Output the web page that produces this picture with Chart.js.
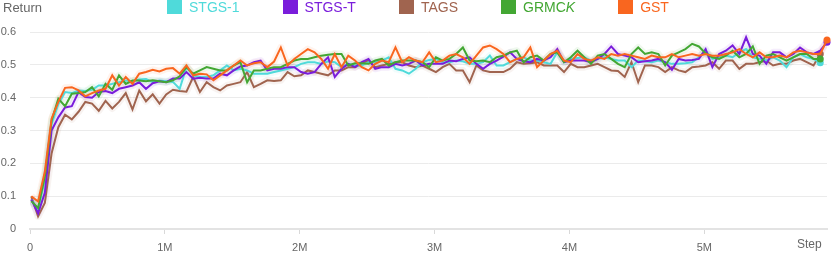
<!DOCTYPE html>
<html lang="en">
<head>
  <meta charset="utf-8" />
  <title>Return vs Step</title>
  <script src="https://cdn.jsdelivr.net/npm/chart.js"></script>
  <style>
    body { margin: 0; background: #fff; }
    .wrap { position: relative; width: 831px; height: 253px; font-family: "Liberation Sans", Arial, sans-serif; }
    .axis-name { position: absolute; color: #666; }
    #yname { left: 3px; top: 0px; font-size: 13px; }
    #xname { left: 797px; top: 237px; font-size: 12px; }
    #legend { position: absolute; top: 0; left: 167px; display: flex; font-size: 14px; line-height: 14px; }
    .item { display: flex; align-items: center; margin-right: 43px; }
    .box { width: 15px; height: 14px; margin-right: 7px; }
  </style>
</head>
<body>
  <div class="wrap">
    <canvas id="chart" width="831" height="253"></canvas>
    <div class="axis-name" id="yname">Return</div>
    <div class="axis-name" id="xname">Step</div>
    <div id="legend"></div>
  </div>

  <script>
    // steps in thousands
    const steps = [
      10, 60, 110, 160, 210, 260, 310, 360, 410, 460, 510, 560, 610, 660, 710, 760, 810, 860, 910, 960,
      1010, 1060, 1110, 1160, 1210, 1260, 1310, 1360, 1410, 1460, 1510, 1560, 1610, 1660, 1710, 1760, 1810, 1860, 1910, 1960,
      2010, 2060, 2110, 2160, 2210, 2260, 2310, 2360, 2410, 2460, 2510, 2560, 2610, 2660, 2710, 2760, 2810, 2860, 2910, 2960,
      3010, 3060, 3110, 3160, 3210, 3260, 3310, 3360, 3410, 3460, 3510, 3560, 3610, 3660, 3710, 3760, 3810, 3860, 3910, 3960,
      4010, 4060, 4110, 4160, 4210, 4260, 4310, 4360, 4410, 4460, 4510, 4560, 4610, 4660, 4710, 4760, 4810, 4860, 4910, 4960,
      5010, 5060, 5110, 5160, 5210, 5260, 5310, 5360, 5410, 5460, 5510, 5560, 5610, 5660, 5710, 5760, 5810, 5860, 5910
    ];

    const stgs1 = [
      0.090, 0.060, 0.150, 0.320, 0.380, 0.417, 0.414, 0.422, 0.420, 0.424, 0.437, 0.437, 0.442, 0.447, 0.452, 0.450, 0.455, 0.457, 0.447, 0.452, 0.450, 0.448,
      0.427, 0.493, 0.468, 0.463, 0.463, 0.468, 0.483, 0.498, 0.483, 0.488, 0.483, 0.473, 0.473, 0.473, 0.478, 0.483, 0.488, 0.493, 0.503, 0.508,
      0.508, 0.503, 0.511, 0.508, 0.493, 0.503, 0.498, 0.498, 0.508, 0.508, 0.513, 0.523, 0.488, 0.483, 0.473, 0.488, 0.508, 0.515, 0.518, 0.508, 0.508,
      0.513, 0.511, 0.503, 0.503, 0.508, 0.528, 0.498, 0.498, 0.508, 0.518, 0.523, 0.513, 0.513, 0.508, 0.503, 0.538, 0.508, 0.518, 0.521, 0.523, 0.513,
      0.518, 0.523, 0.518, 0.513, 0.513, 0.493, 0.513, 0.511, 0.508, 0.513, 0.508, 0.503, 0.503, 0.505, 0.508, 0.523, 0.543, 0.518, 0.523, 0.528,
      0.523, 0.538, 0.548, 0.523, 0.518, 0.513, 0.523, 0.513, 0.493, 0.523, 0.533, 0.523, 0.518, 0.506, null
    ];

    const stgsT = [
      0.090, 0.048, 0.110, 0.300, 0.340, 0.370, 0.374, 0.417, 0.402, 0.400, 0.417, 0.420, 0.414, 0.427, 0.432, 0.437, 0.447, 0.427, 0.444, 0.450, 0.447, 0.458,
      0.458, 0.478, 0.458, 0.461, 0.458, 0.458, 0.473, 0.468, 0.483, 0.495, 0.498, 0.508, 0.513, 0.483, 0.488, 0.488, 0.493, 0.493, 0.478, 0.473,
      0.478, 0.503, 0.523, 0.463, 0.488, 0.503, 0.493, 0.508, 0.518, 0.488, 0.493, 0.493, 0.503, 0.498, 0.503, 0.513, 0.498, 0.503, 0.503, 0.503, 0.513,
      0.511, 0.518, 0.523, 0.503, 0.488, 0.503, 0.513, 0.525, 0.538, 0.518, 0.511, 0.508, 0.518, 0.513, 0.523, 0.548, 0.508, 0.513, 0.513, 0.513, 0.508,
      0.518, 0.533, 0.556, 0.533, 0.528, 0.523, 0.508, 0.511, 0.513, 0.518, 0.508, 0.485, 0.518, 0.513, 0.515, 0.518, 0.548, 0.493, 0.533, 0.543,
      0.559, 0.533, 0.584, 0.533, 0.528, 0.503, 0.538, 0.538, 0.523, 0.533, 0.553, 0.538, 0.533, 0.543, 0.569
    ];

    const tags = [
      0.099, 0.038, 0.079, 0.230, 0.310, 0.348, 0.334, 0.357, 0.387, 0.382, 0.360, 0.390, 0.367, 0.387, 0.414, 0.364, 0.422, 0.389, 0.410, 0.382, 0.410, 0.424,
      0.420, 0.418, 0.463, 0.417, 0.447, 0.432, 0.422, 0.437, 0.442, 0.447, 0.478, 0.432, 0.442, 0.453, 0.451, 0.453, 0.478, 0.465, 0.468, 0.483,
      0.478, 0.473, 0.468, 0.483, 0.483, 0.493, 0.493, 0.503, 0.513, 0.493, 0.498, 0.503, 0.508, 0.508, 0.498, 0.493, 0.498, 0.488, 0.478, 0.493, 0.503,
      0.483, 0.483, 0.447, 0.498, 0.483, 0.478, 0.478, 0.478, 0.488, 0.508, 0.503, 0.505, 0.508, 0.498, 0.498, 0.498, 0.478, 0.503, 0.493, 0.493, 0.498,
      0.503, 0.493, 0.483, 0.481, 0.463, 0.508, 0.447, 0.498, 0.498, 0.493, 0.478, 0.493, 0.483, 0.478, 0.493, 0.495, 0.498, 0.508, 0.488, 0.513,
      0.513, 0.488, 0.503, 0.503, 0.508, 0.513, 0.498, 0.503, 0.503, 0.513, 0.518, 0.508, 0.498, 0.533, null
    ];

    const grmck = [
      0.085, 0.064, 0.160, 0.330, 0.397, 0.374, 0.412, 0.414, 0.417, 0.432, 0.404, 0.442, 0.424, 0.468, 0.442, 0.452, 0.452, 0.450, 0.453, 0.450, 0.447, 0.453,
      0.465, 0.493, 0.473, 0.483, 0.493, 0.488, 0.483, 0.483, 0.498, 0.508, 0.447, 0.483, 0.483, 0.488, 0.493, 0.493, 0.503, 0.513, 0.518, 0.518,
      0.523, 0.528, 0.531, 0.533, 0.533, 0.498, 0.505, 0.505, 0.503, 0.513, 0.518, 0.498, 0.508, 0.513, 0.513, 0.513, 0.508, 0.493, 0.523, 0.513, 0.518,
      0.533, 0.553, 0.513, 0.511, 0.513, 0.508, 0.523, 0.528, 0.538, 0.543, 0.508, 0.523, 0.528, 0.513, 0.533, 0.538, 0.508, 0.523, 0.543, 0.523, 0.503,
      0.528, 0.533, 0.518, 0.503, 0.493, 0.533, 0.553, 0.533, 0.538, 0.533, 0.498, 0.528, 0.538, 0.548, 0.564, 0.556, 0.535, 0.523, 0.518, 0.528,
      0.543, 0.523, 0.533, 0.556, 0.503, 0.528, 0.533, 0.523, 0.513, 0.523, 0.533, 0.533, 0.518, 0.518, null
    ];

    const gst = [
      0.100, 0.084, 0.175, 0.336, 0.387, 0.430, 0.432, 0.422, 0.404, 0.414, 0.422, 0.427, 0.468, 0.437, 0.463, 0.442, 0.473, 0.478, 0.485, 0.480, 0.488, 0.490,
      0.473, 0.498, 0.468, 0.473, 0.471, 0.453, 0.468, 0.483, 0.498, 0.513, 0.498, 0.505, 0.508, 0.493, 0.510, 0.553, 0.498, 0.518, 0.533, 0.548,
      0.538, 0.518, 0.488, 0.533, 0.493, 0.528, 0.513, 0.493, 0.483, 0.503, 0.513, 0.508, 0.553, 0.508, 0.523, 0.513, 0.508, 0.538, 0.508, 0.513, 0.528,
      0.533, 0.523, 0.503, 0.528, 0.553, 0.559, 0.548, 0.533, 0.508, 0.518, 0.523, 0.553, 0.493, 0.513, 0.533, 0.543, 0.513, 0.508, 0.533, 0.518, 0.513,
      0.523, 0.518, 0.533, 0.528, 0.533, 0.528, 0.523, 0.518, 0.528, 0.523, 0.523, 0.533, 0.523, 0.528, 0.533, 0.528, 0.533, 0.528, 0.528, 0.533,
      0.538, 0.548, 0.533, 0.523, 0.538, 0.523, 0.523, 0.528, 0.523, 0.538, 0.543, 0.538, 0.533, 0.533, 0.576
    ];

    const xTicks = [0, 1000000, 2000000, 3000000, 4000000, 5000000];
    const yTicks = [0, 0.1, 0.2, 0.3, 0.4, 0.5, 0.6];

    // drawn top-first
    const series = [
      { name: 'GST', values: gst, color: '#f9661f' },
      { name: 'GRMCK', values: grmck, color: '#43a733' },
      { name: 'STGS-T', values: stgsT, color: '#7a1ddb' },
      { name: 'STGS-1', values: stgs1, color: '#4fdada' },
      { name: 'TAGS', values: tags, color: '#a0644f' }
    ];
    const legendOrder = ['STGS-1', 'STGS-T', 'TAGS', 'GRMCK', 'GST'];

    function hexA(hex, a) {
      const n = parseInt(hex.slice(1), 16);
      return `rgba(${n >> 16}, ${(n >> 8) & 255}, ${n & 255}, ${a})`;
    }

    const lines = [];
    const bands = [];
    series.forEach(s => {
      const pts = steps.map((st, i) => ({ x: st * 1000, y: s.values[i] }));
      let last = s.values.length - 1;
      while (s.values[last] == null) last--;
      lines.push({
        label: s.name,
        data: pts,
        borderColor: s.color,
        backgroundColor: s.color,
        borderWidth: 2,
        pointRadius: ctx => ctx.dataIndex === last ? 3.5 : 0,
        pointBorderWidth: 0,
        tension: 0,
        clip: false,
        order: 0
      });
      bands.push({
        label: s.name + ' band',
        data: pts,
        borderColor: hexA(s.color, 0.08),
        borderWidth: 7,
        pointRadius: 0,
        tension: 0,
        borderJoinStyle: 'round',
        order: 1
      });
    });

    const font = { family: '"Liberation Sans", Arial, sans-serif', size: 11 };

    new Chart(document.getElementById('chart'), {
      type: 'line',
      data: { datasets: lines.concat(bands) },
      options: {
        responsive: false,
        animation: false,
        layout: { padding: { top: 32, right: 2, left: 0, bottom: 0 } },
        plugins: { legend: { display: false }, tooltip: { enabled: false } },
        scales: {
          x: {
            type: 'linear',
            min: 0,
            max: 5910000,
            afterFit: scale => { scale.height = 24; },
            afterBuildTicks: scale => { scale.ticks = xTicks.map(v => ({ value: v })); },
            grid: { drawOnChartArea: false, drawTicks: true, tickLength: 5, color: '#d9d9d9' },
            border: { display: true, color: '#e3e3e3', width: 2 },
            ticks: {
              maxRotation: 0,
              autoSkip: false,
              padding: 7,
              color: '#666',
              font: font,
              callback: v => v === 0 ? '0' : (v / 1000000) + 'M'
            }
          },
          y: {
            min: 0,
            max: 0.6,
            afterFit: scale => { scale.width = 30; },
            afterBuildTicks: scale => { scale.ticks = yTicks.map(v => ({ value: v })); },
            grid: { color: '#ebebeb', drawTicks: false },
            border: { display: false },
            ticks: {
              padding: 14,
              color: '#666',
              font: font,
              callback: v => String(v)
            }
          }
        }
      }
    });

    const legend = document.getElementById('legend');
    legendOrder.forEach(name => {
      const s = series.find(d => d.name === name);
      const item = document.createElement('div');
      item.className = 'item';
      const label = name === 'GRMCK' ? 'GRMC<i>K</i>' : name;
      item.innerHTML = `<span class="box" style="background:${s.color}"></span><span style="color:${s.color}">${label}</span>`;
      legend.appendChild(item);
    });
  </script>
</body>
</html>
